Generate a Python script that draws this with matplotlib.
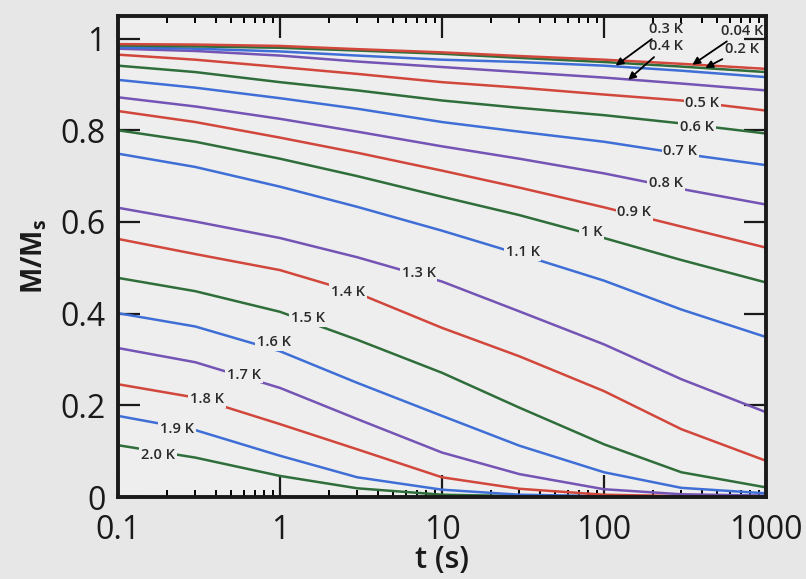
import matplotlib
matplotlib.use("Agg")
import matplotlib.pyplot as plt
from matplotlib.ticker import FixedLocator, NullFormatter, NullLocator, LogLocator

plt.rcParams['font.family'] = ['Open Sans', 'DejaVu Sans']
plt.rcParams['mathtext.fontset'] = 'custom'
plt.rcParams['mathtext.rm'] = 'Open Sans'
plt.rcParams['mathtext.bf'] = 'Open Sans:bold'

# time points (s) where curves were read
t = [0.1, 0.3, 1, 3, 10, 30, 100, 300, 1000]

# M/Ms for each temperature
m_004 = [0.988, 0.987, 0.984, 0.977, 0.970, 0.962, 0.954, 0.945, 0.934]
m_02 = [0.985, 0.983, 0.980, 0.974, 0.967, 0.958, 0.949, 0.939, 0.927]
m_03 = [0.981, 0.978, 0.972, 0.963, 0.954, 0.949, 0.941, 0.930, 0.916]
m_04 = [0.978, 0.973, 0.963, 0.950, 0.938, 0.927, 0.915, 0.902, 0.887]
m_05 = [0.965, 0.954, 0.938, 0.923, 0.905, 0.893, 0.878, 0.865, 0.843]
m_06 = [0.941, 0.927, 0.905, 0.887, 0.865, 0.849, 0.833, 0.815, 0.793]
m_07 = [0.910, 0.893, 0.870, 0.847, 0.818, 0.797, 0.775, 0.749, 0.724]
m_08 = [0.872, 0.852, 0.825, 0.797, 0.765, 0.738, 0.706, 0.672, 0.638]
m_09 = [0.842, 0.818, 0.784, 0.751, 0.712, 0.675, 0.632, 0.590, 0.544]
m_10 = [0.800, 0.775, 0.738, 0.700, 0.655, 0.615, 0.565, 0.517, 0.468]
m_11 = [0.749, 0.720, 0.677, 0.633, 0.581, 0.530, 0.472, 0.409, 0.349]
m_13 = [0.631, 0.601, 0.565, 0.523, 0.470, 0.405, 0.333, 0.257, 0.185]
m_14 = [0.563, 0.530, 0.495, 0.445, 0.369, 0.307, 0.231, 0.148, 0.079]
m_15 = [0.478, 0.449, 0.404, 0.343, 0.271, 0.195, 0.115, 0.054, 0.021]
m_16 = [0.401, 0.372, 0.318, 0.249, 0.177, 0.112, 0.054, 0.020, 0.008]
m_17 = [0.325, 0.294, 0.238, 0.170, 0.097, 0.050, 0.017, 0.006, 0.003]
m_18 = [0.246, 0.217, 0.159, 0.104, 0.043, 0.018, 0.005, 0.002, 0.001]
m_19 = [0.177, 0.146, 0.090, 0.043, 0.016, 0.005, 0.002, 0.001, 0.000]
m_20 = [0.113, 0.086, 0.046, 0.019, 0.005, 0.002, 0.001, 0.000, 0.000]

curves = [m_004, m_02, m_03, m_04, m_05, m_06, m_07, m_08, m_09, m_10,
          m_11, m_13, m_14, m_15, m_16, m_17, m_18, m_19, m_20]

RED, GREEN, BLUE, PURPLE = '#d2473c', '#2f6e3a', '#3f6fd6', '#7454b4'
colors = [RED, GREEN, BLUE, PURPLE, RED, GREEN, BLUE, PURPLE, RED, GREEN,
          BLUE, PURPLE, RED, GREEN, BLUE, PURPLE, RED, BLUE, GREEN]

# inline labels (text, t, M)
inline_labels = [('0.5 K', 404, 0.859), ('0.6 K', 376, 0.807), ('0.7 K', 296, 0.755),
                 ('0.8 K', 242, 0.685), ('0.9 K', 154, 0.622), ('1 K', 83.6, 0.579),
                 ('1.1 K', 31.4, 0.535), ('1.3 K', 7.18, 0.488), ('1.4 K', 2.62, 0.448),
                 ('1.5 K', 1.49, 0.391), ('1.6 K', 0.918, 0.338), ('1.7 K', 0.600, 0.267),
                 ('1.8 K', 0.355, 0.213), ('1.9 K', 0.232, 0.149), ('2.0 K', 0.177, 0.091)]

# arrow labels (text, text t, text M, tip t, tip M)
arrow_labels = [('0.3 K', 242, 1.022, 118, 0.941), ('0.4 K', 242, 0.983, 141, 0.910),
                ('0.04 K', 715, 1.017, 351, 0.943), ('0.2 K', 715, 0.978, 422, 0.936)]

xticks = [0.1, 1, 10, 100, 1000]
xticklabels = ['0.1', '1', '10', '100', '1000']
yticks = [0, 0.2, 0.4, 0.6, 0.8, 1]
yticklabels = ['0', '0.2', '0.4', '0.6', '0.8', '1']

BG_FIG = '#e7e7e7'
BG_AX = '#eeeeee'

fig = plt.figure(figsize=(8.06, 5.79), dpi=100, facecolor=BG_FIG)
ax = fig.add_axes([0.1464, 0.1416, 0.804, 0.8313], facecolor=BG_AX)

for m, c in zip(curves[::-1], colors[::-1]):
    ax.plot(t, m, color=c, lw=1.8, zorder=2)

for txt, tx, my in inline_labels:
    ax.text(tx, my, txt, ha='center', va='center', fontsize=10.5, fontweight='semibold',
            color='#2a2a2a', zorder=4,
            bbox=dict(boxstyle='square,pad=0.12', fc=BG_AX, ec='none'))

for txt, tx, my, px, py in arrow_labels:
    ax.annotate(txt, xy=(px, py), xytext=(tx, my), ha='center', va='center',
                fontsize=10.5, fontweight='semibold', color='#2a2a2a', zorder=5,
                arrowprops=dict(arrowstyle='-|>', color='black', lw=1.3,
                                mutation_scale=11, shrinkA=1, shrinkB=0))

ax.set_xscale('log')
ax.set_xlim(0.1, 1000)
ax.set_ylim(0, 1.05)
ax.xaxis.set_major_locator(FixedLocator(xticks))
ax.set_xticklabels(xticklabels)
ax.xaxis.set_minor_locator(LogLocator(base=10, subs=range(2, 10), numticks=20))
ax.xaxis.set_minor_formatter(NullFormatter())
ax.set_yticks(yticks)
ax.set_yticklabels(yticklabels)
ax.yaxis.set_minor_locator(NullLocator())

ax.tick_params(which='major', direction='in', length=16, width=1.6, top=True, right=True,
               labelsize=23, colors='#1a1a1a')
ax.tick_params(axis='x', which='major', pad=12.5)
ax.tick_params(axis='y', which='major', pad=9)
ax.tick_params(which='minor', direction='in', length=5, width=1.4, top=True, right=True)
for s in ax.spines.values():
    s.set_linewidth(2.8)
    s.set_color('#1a1a1a')

ax.set_xlabel('t (s)', fontsize=22, fontweight='semibold', color='#1a1a1a', labelpad=-2)
ax.set_ylabel(r'$\mathbf{M/M_s}$', fontsize=20, color='#1a1a1a', labelpad=8)

fig.savefig('out.png', dpi=100, facecolor=BG_FIG)
